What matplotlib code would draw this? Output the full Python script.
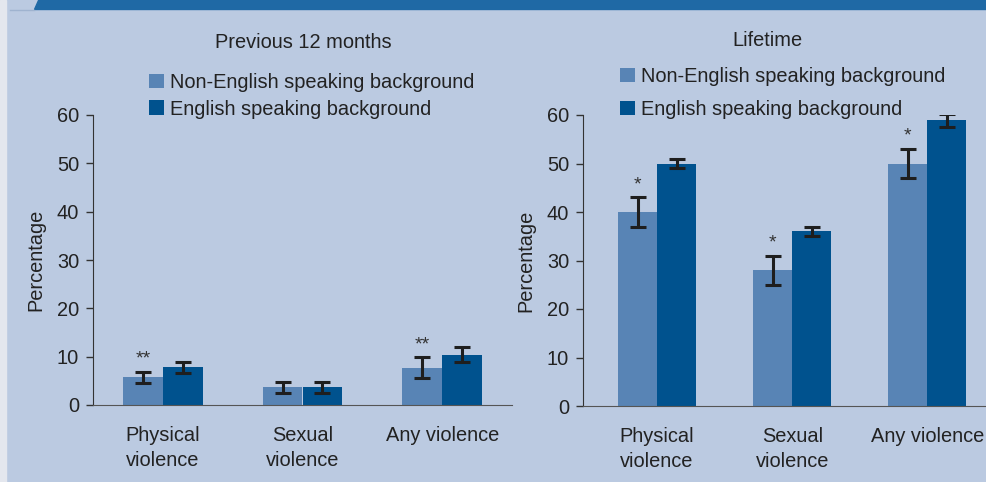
import matplotlib.pyplot as plt
import matplotlib.patches as mpatches
import numpy as np

plt.rcParams['font.family'] = ['Liberation Sans', 'DejaVu Sans']

categories = ["Physical\nviolence", "Sexual\nviolence", "Any violence"]
series = ["Non-English speaking background", "English speaking background"]

# previous 12 months
p12_nesb = [5.8, 3.7, 7.7]
p12_nesb_lo = [4.6, 2.5, 5.6]
p12_nesb_hi = [6.8, 4.8, 9.9]
p12_esb = [7.9, 3.7, 10.3]
p12_esb_lo = [6.6, 2.5, 8.9]
p12_esb_hi = [8.9, 4.8, 12.0]
p12_marks = ["**", "", "**"]

# lifetime
life_nesb = [40, 28, 50]
life_nesb_lo = [37, 25, 47]
life_nesb_hi = [43, 31, 53]
life_esb = [50, 36, 59]
life_esb_lo = [49, 35, 57.6]
life_esb_hi = [51, 37, 60.3]
life_marks = ["*", "*", "*"]

bg = "#bbcae1"
c_nesb = "#5884b5"
c_esb = "#00528e"
txt = "#222222"
fs = 14.4

fig = plt.figure(figsize=(9.87, 4.82), dpi=100)
fig.patch.set_facecolor(bg)

# top band and left strip
fig.patches.append(mpatches.Polygon([[38 / 987, 1], [1, 1], [1, 1 - 9 / 482], [34 / 987, 1 - 9 / 482]],
                                    closed=True, transform=fig.transFigure, color="#1f69a5", zorder=0))
fig.patches.append(mpatches.Rectangle((0, 0), 6 / 987, 1, transform=fig.transFigure,
                                      color="#e4e7ee", zorder=0))
fig.lines.append(plt.Line2D([10 / 987, 34 / 987], [1 - 9.5 / 482] * 2, transform=fig.transFigure,
                            color="#9fb3cf", lw=1))


def panel(rect, xlim, w, nesb, nlo, nhi, esb, elo, ehi, marks, title, tx, ty, leg_y, leg_x, spacing):
    ax = fig.add_axes(rect)
    ax.set_facecolor(bg)
    x = np.arange(len(categories))
    nesb = np.array(nesb)
    esb = np.array(esb)
    b1 = ax.bar(x - w / 2, nesb, w, color=c_nesb, label=series[0], zorder=2)
    b2 = ax.bar(x + w / 2, esb, w, color=c_esb, label=series[1], zorder=2)
    ekw = dict(fmt="none", ecolor="#1e1e1e", elinewidth=2.2, capsize=6, capthick=2.2, zorder=3)
    ax.errorbar(x - w / 2, nesb, yerr=[nesb - np.array(nlo), np.array(nhi) - nesb], **ekw)
    ax.errorbar(x + w / 2, esb, yerr=[esb - np.array(elo), np.array(ehi) - esb], **ekw)
    for xi, hi, m in zip(x, nhi, marks):
        if m:
            ax.annotate(m, (xi - w / 2, hi), xytext=(0, 3), textcoords="offset points",
                        ha="center", va="bottom", fontsize=14, color="#333333")
    ax.set_xlim(*xlim)
    ax.set_ylim(0, 60)
    ax.set_yticks(range(0, 61, 10))
    ax.set_xticks(x, categories)
    for lbl in ax.get_xticklabels():
        lbl.set_linespacing(1.38)
    ax.tick_params(axis="x", length=0, pad=15, labelsize=fs, labelcolor=txt)
    ax.tick_params(axis="y", length=5, width=1, color="#333333", labelsize=fs, labelcolor=txt, pad=5)
    for s in ["top", "right"]:
        ax.spines[s].set_visible(False)
    ax.spines["left"].set_color("#333333")
    ax.spines["bottom"].set_color("#555555")
    ax.set_ylabel("Percentage", fontsize=fs, color=txt, labelpad=8)
    fig.text(tx, ty, title, ha="center", va="center", fontsize=fs, color=txt)
    fig.legend(handles=[b1, b2], loc="upper left", bbox_to_anchor=(leg_x, leg_y), frameon=False,
               fontsize=fs, handlelength=0.75, handleheight=0.75, handletextpad=0.3,
               labelspacing=spacing, borderpad=0, borderaxespad=0, labelcolor=txt)
    return ax


panel([93 / 987, 77 / 482, 419 / 987, 290 / 482], (-0.5, 2.5), 0.286,
      p12_nesb, p12_nesb_lo, p12_nesb_hi, p12_esb, p12_esb_lo, p12_esb_hi, p12_marks,
      "Previous 12 months", 303 / 987, 1 - 42 / 482, 1 - 73 / 482, 149 / 987, 0.38)
panel([583 / 987, 76 / 482, 412 / 987, 291 / 482], (-0.548, 2.5), 0.289,
      life_nesb, life_nesb_lo, life_nesb_hi, life_esb, life_esb_lo, life_esb_hi, life_marks,
      "Lifetime", 767 / 987, 1 - 40 / 482, 1 - 67 / 482, 620 / 987, 0.7)

fig.savefig("out.png", dpi=100, facecolor=bg)
